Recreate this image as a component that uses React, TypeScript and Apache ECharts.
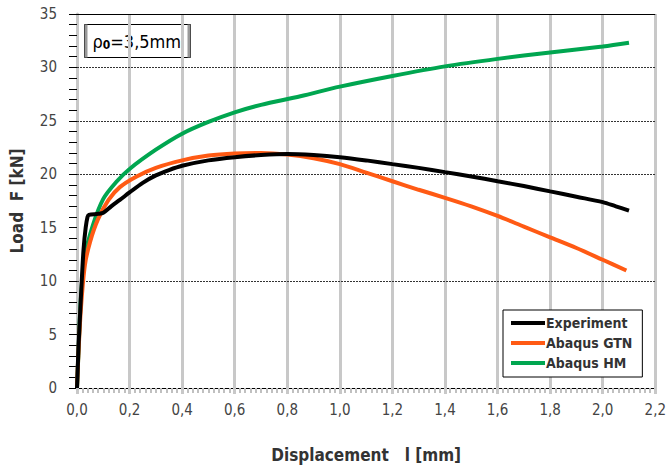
import React, { useEffect, useRef } from "react";
import * as echarts from "echarts";

const experimentX = [0, 0.003, 0.006, 0.012, 0.018, 0.025, 0.033, 0.04, 0.045, 0.08, 0.1, 0.13, 0.163, 0.2, 0.25, 0.3, 0.35, 0.4, 0.5, 0.6, 0.7, 0.8, 0.9, 1.0, 1.1, 1.2, 1.3, 1.4, 1.5, 1.6, 1.7, 1.8, 1.9, 2.0, 2.05, 2.1];
const experimentY = [0, 2, 4, 7, 10, 13, 15, 16.0, 16.2, 16.3, 16.4, 17.0, 17.6, 18.3, 19.2, 19.9, 20.4, 20.8, 21.3, 21.6, 21.8, 21.9, 21.8, 21.6, 21.3, 20.95, 20.6, 20.2, 19.8, 19.35, 18.9, 18.4, 17.9, 17.4, 17.0, 16.6];

const gtnX = [0, 0.005, 0.015, 0.03, 0.05, 0.08, 0.12, 0.163, 0.227, 0.3, 0.4, 0.5, 0.6, 0.7, 0.8, 0.9, 1.0, 1.1, 1.2, 1.3, 1.4, 1.5, 1.6, 1.7, 1.8, 1.9, 2.0, 2.09];
const gtnY = [0, 3, 7.5, 11.5, 13.7, 15.8, 17.6, 18.8, 19.8, 20.6, 21.3, 21.75, 21.95, 22.0, 21.85, 21.5, 20.95, 20.15, 19.35, 18.55, 17.8, 17.0, 16.1, 15.1, 14.1, 13.1, 12.0, 11.0];

const hmX = [0, 0.005, 0.015, 0.03, 0.06, 0.1, 0.15, 0.2, 0.3, 0.4, 0.5, 0.6, 0.7, 0.85, 1.0, 1.2, 1.4, 1.6, 1.8, 2.0, 2.1];
const hmY = [0, 3, 8.5, 12.3, 15.2, 17.7, 19.3, 20.5, 22.3, 23.8, 24.9, 25.8, 26.5, 27.3, 28.2, 29.2, 30.1, 30.8, 31.4, 31.95, 32.3];

const seriesNames = ["Experiment", "Abaqus GTN", "Abaqus HM"];
const seriesColors = ["#000000", "#ff5a14", "#00a650"];
const gridLevels = [10, 20, 25, 30];
const topLevel = 35;

const FONT = "'DejaVu Sans Condensed', 'Liberation Sans Narrow', 'DejaVu Sans', sans-serif";

function pairs(xs: number[], ys: number[]) {
  return xs.map((x, i) => [x, ys[i]]);
}

export default function App() {
  const ref = useRef<HTMLDivElement>(null);
  useEffect(() => {
    if (!ref.current) return;
    const chart = echarts.init(ref.current, undefined, { renderer: "svg" });
    const datasets = [pairs(experimentX, experimentY), pairs(gtnX, gtnY), pairs(hmX, hmY)];
    chart.setOption({
      animation: false,
      backgroundColor: "#ffffff",
      grid: { left: 77, right: 12, top: 14, bottom: 78 },
      xAxis: {
        type: "value",
        min: 0,
        max: 2.2,
        interval: 0.2,
        name: "Displacement   l [mm]",
        nameLocation: "middle",
        nameGap: 58,
        nameTextStyle: { fontFamily: FONT, fontSize: 17, fontWeight: "bold", color: "#333" },
        axisLine: { show: true, lineStyle: { color: "#000", width: 1 } },
        axisTick: { show: true, length: 6, lineStyle: { color: "#c8c8c8", width: 3 } },
        minorTick: { show: true, splitNumber: 10, length: 5, lineStyle: { color: "#c0c0c0", width: 2 } },
        axisLabel: {
          margin: 14,
          fontFamily: FONT,
          fontSize: 15,
          color: "#444",
          formatter: (v: number) => v.toFixed(1).replace(".", ","),
        },
        splitLine: { show: true, lineStyle: { color: "#c8c8c8", width: 3 } },
      },
      yAxis: {
        type: "value",
        min: 0,
        max: 35,
        interval: 5,
        name: "Load  F [kN]",
        nameLocation: "middle",
        nameGap: 52,
        nameTextStyle: { fontFamily: FONT, fontSize: 17, fontWeight: "bold", color: "#333" },
        axisLine: { show: true, lineStyle: { color: "#c8c8c8", width: 3 } },
        axisTick: { show: true, length: 8, lineStyle: { color: "#000", width: 1 } },
        minorTick: { show: true, splitNumber: 5, length: 8, lineStyle: { color: "#000", width: 1 } },
        axisLabel: { margin: 20, fontFamily: FONT, fontSize: 15, color: "#444" },
        splitLine: { show: false },
      },
      legend: {
        orient: "vertical",
        left: 503,
        top: 310,
        width: 145,
        itemGap: 6,
        itemWidth: 34,
        itemHeight: 4,
        padding: [6, 10, 7, 8],
        backgroundColor: "#ffffff",
        borderColor: "#000",
        borderWidth: 1,
        borderRadius: 0,
        icon: "rect",
        textStyle: { fontFamily: FONT, fontSize: 14, fontWeight: "bold", color: "#333", padding: [0, 0, 0, -4] },
        data: seriesNames,
      },
      series: seriesNames.map((name, i) => ({
        name,
        type: "line",
        data: datasets[i],
        showSymbol: false,
        smooth: 0.3,
        z: 3 + (2 - i),
        lineStyle: { color: seriesColors[i], width: 4 },
        itemStyle: { color: seriesColors[i] },
        markLine:
          i === 0
            ? {
                silent: true,
                symbol: "none",
                label: { show: false },
                z: 1,
                data: [
                  ...gridLevels.map((v) => ({ yAxis: v, lineStyle: { color: "#333", width: 1, type: [2, 1] } })),
                  { yAxis: topLevel, lineStyle: { color: "#000", width: 1, type: "solid" } },
                ],
              }
            : undefined,
      })),
      graphic: [
        {
          type: "group",
          left: 84,
          top: 24,
          children: [
            { type: "rect", shape: { x: 0, y: 0, width: 106, height: 33 }, style: { fill: "#fff", stroke: "#000", lineWidth: 1 } },
            { type: "rect", shape: { x: 0, y: 0, width: 3, height: 33 }, style: { fill: "#999" } },
            { type: "rect", shape: { x: 103, y: 0, width: 3, height: 33 }, style: { fill: "#999" } },
            {
              type: "text",
              x: 8,
              y: 7,
              style: {
                text: "{a|ρ}{s|0}{a|=3,5mm}",
                rich: {
                  a: { fontFamily: FONT, fontSize: 18, color: "#333", verticalAlign: "bottom" },
                  s: { fontFamily: FONT, fontSize: 12, color: "#333", fontWeight: "bold", padding: [7, 0, 0, 0], verticalAlign: "bottom" },
                },
              },
            },
          ],
        },
      ],
    });
    return () => chart.dispose();
  }, []);
  return <div ref={ref} style={{ width: 669, height: 468, position: "absolute", left: 0, top: 0 }} />;
}
